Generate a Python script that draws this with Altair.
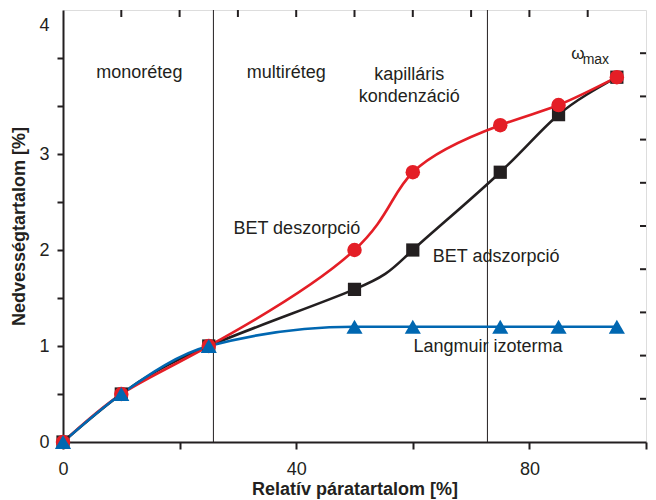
import altair as alt
import pandas as pd

# ---- data ----
rh = [0, 10, 25, 50, 60, 75, 85, 95]
bet_desorption = [0, 0.5, 1.0, 2.0, 2.81, 3.30, 3.51, 3.80]
bet_adsorption = [0, 0.5, 1.0, 1.59, 2.0, 2.81, 3.41, 3.80]
langmuir = [0, 0.5, 1.0, 1.2, 1.2, 1.2, 1.2, 1.2]

region_bounds = [25.8, 72.8]

x_ticks = [0, 20, 40, 60, 80, 100]
y_ticks = [0, 0.5, 1, 1.5, 2, 2.5, 3, 3.5, 4]
top_ticks = [10, 20, 30, 40, 50, 60, 70, 80, 90]
right_ticks = [1, 2, 3, 4, 5, 6, 7, 8, 9]

labels_text = ["monoréteg", "multiréteg", "kapilláris", "kondenzáció",
               "BET deszorpció", "BET adszorpció", "Langmuir izoterma"]
labels_x = [13.1, 38.3, 59.4, 59.4, 40.1, 74.3, 72.9]
labels_y = [3.84, 3.84, 3.82, 3.59, 2.22, 1.93, 0.99]

omega_x, omega_y = [88.3], [4.04]
max_x, max_y = [91.4], [3.98]

RED = "#e41e26"
BLACK = "#231f20"
BLUE = "#0067b1"
FONT = "Liberation Sans"
W, H = 583, 432

df = pd.DataFrame({"x": rh * 3,
                   "y": bet_adsorption + bet_desorption + langmuir,
                   "s": ["ads"] * len(rh) + ["des"] * len(rh) + ["lang"] * len(rh)})

xscale = alt.Scale(domain=[0, 100], nice=False, zero=False)
yscale = alt.Scale(domain=[0, 4.5], nice=False)

xaxis = alt.Axis(values=x_ticks, title="Relatív páratartalom [%]", format="d",
                 labelExpr="datum.value % 40 == 0 ? datum.label : ''",
                 labelFlush=False,
                 grid=False, domainColor=BLACK, domainWidth=2, tickColor=BLACK,
                 tickWidth=2, tickSize=7, labelFont=FONT, labelFontSize=18,
                 labelColor=BLACK, labelPadding=11, titleFont=FONT, titleFontSize=18,
                 titleFontWeight="bold", titleColor=BLACK, titlePadding=2)
yaxis = alt.Axis(values=y_ticks, title="Nedvességtartalom [%]", format=".0f",
                 labelExpr="datum.value % 1 == 0 ? datum.label : ''",
                 labelOffset={"condition": {"test": "datum.value == 4", "value": -33}, "value": 0},
                 labelFlush=False,
                 grid=False, domainColor=BLACK, domainWidth=2, tickColor=BLACK,
                 tickWidth=2, tickSize=6, labelFont=FONT, labelFontSize=18,
                 labelColor=BLACK, labelPadding=8, titleFont=FONT, titleFontSize=18,
                 titleFontWeight="bold", titleColor=BLACK, titlePadding=10)

base = alt.Chart(df)

vlines = alt.Chart(pd.DataFrame({"x": region_bounds})).mark_rule(
    color=BLACK, strokeWidth=1).encode(
    x=alt.X("x:Q", scale=xscale, axis=xaxis))

def series(key, color, shape, size, interp):
    d = base.transform_filter(alt.datum.s == key)
    line = d.mark_line(color=color, strokeWidth=2.6, interpolate=interp).encode(
        x=alt.X("x:Q", scale=xscale, axis=xaxis),
        y=alt.Y("y:Q", scale=yscale, axis=yaxis))
    pts = d.mark_point(shape=shape, filled=True, color=color, opacity=1, size=size).encode(
        x=alt.X("x:Q", scale=xscale, axis=xaxis),
        y=alt.Y("y:Q", scale=yscale, axis=yaxis))
    return line, pts

l_ads, p_ads = series("ads", BLACK, "square", 175, "natural")
l_des, p_des = series("des", RED, "circle", 210, "natural")
l_lang, p_lang = series("lang", BLUE, "triangle-up", 260, "monotone")

texts = alt.Chart(pd.DataFrame({"t": labels_text, "x": labels_x, "y": labels_y})).mark_text(
    font=FONT, fontSize=18, color=BLACK, align="center", baseline="middle").encode(
    x=alt.X("x:Q", scale=xscale, axis=xaxis),
    y=alt.Y("y:Q", scale=yscale, axis=yaxis),
    text="t:N")

omega = alt.Chart(pd.DataFrame({"x": omega_x, "y": omega_y, "t": ["ω"]})).mark_text(
    font=FONT, fontSize=17, color=BLACK, align="center", baseline="middle").encode(
    x=alt.X("x:Q", scale=xscale, axis=xaxis),
    y=alt.Y("y:Q", scale=yscale, axis=yaxis), text="t:N")
sub = alt.Chart(pd.DataFrame({"x": max_x, "y": max_y, "t": ["max"]})).mark_text(
    font=FONT, fontSize=14, color=BLACK, align="center", baseline="middle").encode(
    x=alt.X("x:Q", scale=xscale, axis=xaxis),
    y=alt.Y("y:Q", scale=yscale, axis=yaxis), text="t:N")

topt = alt.Chart(pd.DataFrame({"x": top_ticks})).mark_rule(color=BLACK, strokeWidth=2).encode(
    x=alt.X("x:Q", scale=xscale, axis=xaxis),
    y=alt.value(0), y2=alt.value(7))

main = alt.layer(vlines, topt, l_ads, l_des, l_lang, p_ads, p_des, p_lang,
                 texts, omega, sub)

rightt = alt.Chart(pd.DataFrame({"v": right_ticks})).mark_rule(color=BLACK, strokeWidth=2).encode(
    y=alt.Y("v:Q", scale=alt.Scale(domain=[0, 10], nice=False), axis=None),
    x=alt.value(W - 6), x2=alt.value(W))

chart = alt.layer(main, rightt).resolve_scale(y="independent").properties(
    width=W, height=H,
    autosize=alt.AutoSizeParams(type="none"),
    padding={"left": 55, "top": 2, "right": 2, "bottom": 57},
).configure_view(stroke=BLACK, strokeWidth=2).configure(background="white")

chart.save("out.html", embed_options={"renderer": "svg", "actions": False})
